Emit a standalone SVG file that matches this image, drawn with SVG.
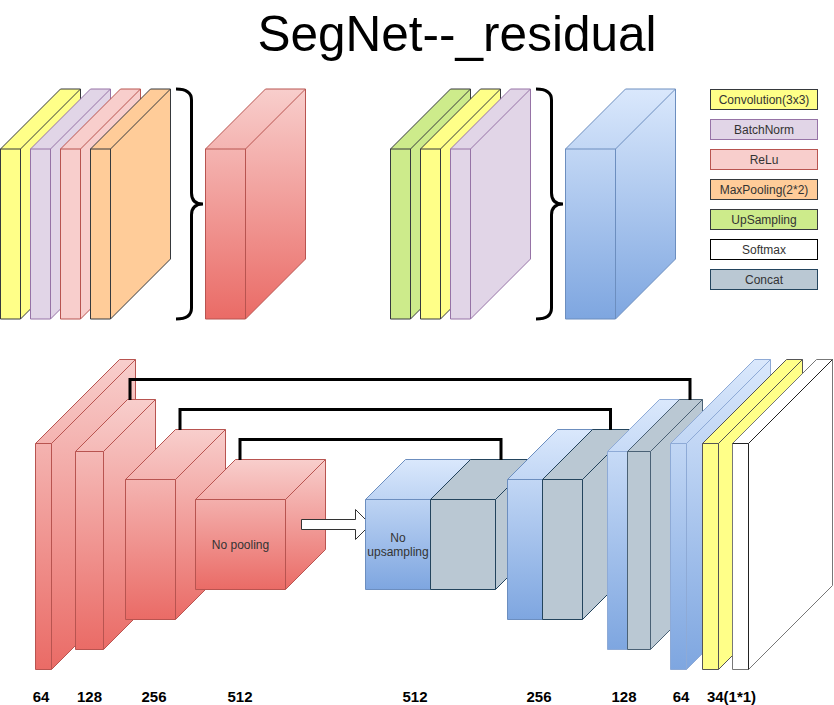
<svg xmlns="http://www.w3.org/2000/svg" width="834" height="705" viewBox="0 0 834 705">
<defs>
<linearGradient id="gRed" x1="0" y1="0" x2="0" y2="1"><stop offset="0" stop-color="#f8cecc"/><stop offset="1" stop-color="#ea6b66"/></linearGradient>
<linearGradient id="gBlue" x1="0" y1="0" x2="0" y2="1"><stop offset="0" stop-color="#dae8fc"/><stop offset="1" stop-color="#7ea6e0"/></linearGradient>
</defs>
<style>
.red{fill:url(#gRed);stroke:#b85450}
.blue{fill:url(#gBlue);stroke:#6c8ebf}
.blue2{fill:url(#gBlue);stroke:#8eaad6}
.conv{fill:#ffff88;stroke:#36393d}
.bn{fill:#e1d5e7;stroke:#9673a6}
.relu{fill:#f8cecc;stroke:#b85450}
.pool{fill:#ffcc99;stroke:#36393d}
.up{fill:#cdeb8b;stroke:#36393d}
.soft{fill:#ffffff;stroke:#000000}
.cat{fill:#bac8d3;stroke:#23445d}
.cat2{fill:#bac8d3;stroke:#4a6175}
.in{fill:none}
path,rect{stroke-width:1}
.brace,.skip{fill:none;stroke:#000;stroke-width:3}
.lt{font-family:"Liberation Sans",Arial,sans-serif;font-size:12px;fill:#333;text-anchor:middle}
.lab{font-family:"Liberation Sans",Arial,sans-serif;font-size:15px;font-weight:bold;fill:#000;text-anchor:middle}
</style>

<text x="457" y="50.5" font-family="'Liberation Sans',Arial,sans-serif" font-size="49.5" text-anchor="middle" fill="#000">SegNet--_residual</text>

<g id="top-encoder-layers">
<g class="conv"><path d="M0.5,149 L60.5,89 L80.5,89 L80.5,259 L20.5,319 L0.5,319 Z"/><path class="in" d="M0.5,149 H20.5 L80.5,89 M20.5,149 V319"/></g>
<g class="bn"><path d="M30.5,149 L90.5,89 L110.5,89 L110.5,259 L50.5,319 L30.5,319 Z"/><path class="in" d="M30.5,149 H50.5 L110.5,89 M50.5,149 V319"/></g>
<g class="relu"><path d="M60.5,149 L120.5,89 L140.5,89 L140.5,259 L80.5,319 L60.5,319 Z"/><path class="in" d="M60.5,149 H80.5 L140.5,89 M80.5,149 V319"/></g>
<g class="pool"><path d="M90.5,149 L150.5,89 L170.5,89 L170.5,259 L110.5,319 L90.5,319 Z"/><path class="in" d="M90.5,149 H110.5 L170.5,89 M110.5,149 V319"/></g>
</g>
<g id="brace-encoder"><path class="brace" d="M176,89 Q191.5,89 191.5,100 L191.5,193 Q191.5,204 203,204 Q191.5,204 191.5,215 L191.5,308 Q191.5,319 176,319"/></g>
<g id="top-encoder-block" class="red"><path d="M205.5,149 L265.5,89 L305.5,89 L305.5,259 L245.5,319 L205.5,319 Z"/><path class="in" d="M205.5,149 H245.5 L305.5,89 M245.5,149 V319"/></g>

<g id="top-decoder-layers">
<g class="up"><path d="M390.5,149 L450.5,89 L470.5,89 L470.5,259 L410.5,319 L390.5,319 Z"/><path class="in" d="M390.5,149 H410.5 L470.5,89 M410.5,149 V319"/></g>
<g class="conv"><path d="M420.5,149 L480.5,89 L500.5,89 L500.5,259 L440.5,319 L420.5,319 Z"/><path class="in" d="M420.5,149 H440.5 L500.5,89 M440.5,149 V319"/></g>
<g class="bn"><path d="M450.5,149 L510.5,89 L530.5,89 L530.5,259 L470.5,319 L450.5,319 Z"/><path class="in" d="M450.5,149 H470.5 L530.5,89 M470.5,149 V319"/></g>
</g>
<g id="brace-decoder"><path class="brace" d="M536,89 Q551.5,89 551.5,100 L551.5,193 Q551.5,204 563,204 Q551.5,204 551.5,215 L551.5,308 Q551.5,319 536,319"/></g>
<g id="top-decoder-block" class="blue"><path d="M565.5,149 L625.5,89 L675.5,89 L675.5,259 L615.5,319 L565.5,319 Z"/><path class="in" d="M565.5,149 H615.5 L675.5,89 M615.5,149 V319"/></g>

<g id="legend">
<rect class="conv" x="710.5" y="89.5" width="107" height="20"/><text class="lt" x="764" y="103.5">Convolution(3x3)</text>
<rect class="bn" x="710.5" y="119.5" width="107" height="20"/><text class="lt" x="764" y="133.5">BatchNorm</text>
<rect class="relu" x="710.5" y="149.5" width="107" height="20"/><text class="lt" x="764" y="163.5">ReLu</text>
<rect class="pool" x="710.5" y="179.5" width="107" height="20"/><text class="lt" x="764" y="193.5">MaxPooling(2*2)</text>
<rect class="up" x="710.5" y="209.5" width="107" height="20"/><text class="lt" x="764" y="223.5">UpSampling</text>
<rect class="soft" x="710.5" y="239.5" width="107" height="20"/><text class="lt" x="764" y="253.5">Softmax</text>
<rect class="cat" x="710.5" y="269.5" width="107" height="20"/><text class="lt" x="764" y="283.5">Concat</text>
</g>

<g id="enc1" class="red"><path d="M35.5,443.5 L119.5,359.5 L135.5,359.5 L135.5,585.5 L51.5,669.5 L35.5,669.5 Z"/><path class="in" d="M35.5,443.5 H51.5 L135.5,359.5 M51.5,443.5 V669.5"/></g>
<g id="enc2" class="red"><path d="M75.5,451.5 L127.5,399.5 L155.5,399.5 L155.5,597.5 L103.5,649.5 L75.5,649.5 Z"/><path class="in" d="M75.5,451.5 H103.5 L155.5,399.5 M103.5,451.5 V649.5"/></g>
<g id="enc3" class="red"><path d="M125.5,479.5 L175.5,429.5 L225.5,429.5 L225.5,569.5 L175.5,619.5 L125.5,619.5 Z"/><path class="in" d="M125.5,479.5 H175.5 L225.5,429.5 M175.5,479.5 V619.5"/></g>
<g id="enc4" class="red"><path d="M195.5,499.5 L235.5,459.5 L325.5,459.5 L325.5,549.5 L285.5,589.5 L195.5,589.5 Z"/><path class="in" d="M195.5,499.5 H285.5 L325.5,459.5 M285.5,499.5 V589.5"/><text class="lt" x="240.5" y="548.5" stroke="none">No pooling</text></g>

<g id="bridge-arrow"><path d="M301.5,519.5 H355.5 V509.5 L370.5,524.5 L355.5,539.5 V529.5 H301.5 Z" fill="#fff" stroke="#333"/></g>

<g id="dec1">
<g class="blue"><path d="M365.5,499.5 L405.5,459.5 L470.5,459.5 L470.5,549.5 L430.5,589.5 L365.5,589.5 Z"/><path class="in" d="M365.5,499.5 H430.5 L470.5,459.5 M430.5,499.5 V589.5"/></g>
<g class="cat"><path d="M430.5,499.5 L470.5,459.5 L535.5,459.5 L535.5,549.5 L495.5,589.5 L430.5,589.5 Z"/><path class="in" d="M430.5,499.5 H495.5 L535.5,459.5 M495.5,499.5 V589.5"/></g>
<text class="lt" x="398" y="541.5">No</text><text class="lt" x="398" y="556">upsampling</text>
</g>
<g id="dec2">
<g class="blue"><path d="M507.5,479.5 L557.5,429.5 L592.5,429.5 L592.5,569.5 L542.5,619.5 L507.5,619.5 Z"/><path class="in" d="M507.5,479.5 H542.5 L592.5,429.5 M542.5,479.5 V619.5"/></g>
<g class="cat"><path d="M542.5,479.5 L592.5,429.5 L632.5,429.5 L632.5,569.5 L582.5,619.5 L542.5,619.5 Z"/><path class="in" d="M542.5,479.5 H582.5 L632.5,429.5 M582.5,479.5 V619.5"/></g>
</g>
<g id="dec3">
<g class="blue2"><path d="M607.5,451.5 L659.5,399.5 L679.5,399.5 L679.5,597.5 L627.5,649.5 L607.5,649.5 Z"/><path class="in" d="M607.5,451.5 H627.5 L679.5,399.5 M627.5,451.5 V649.5"/></g>
<g class="cat2"><path d="M627.5,451.5 L679.5,399.5 L702.5,399.5 L702.5,597.5 L650.5,649.5 L627.5,649.5 Z"/><path class="in" d="M627.5,451.5 H650.5 L702.5,399.5 M650.5,451.5 V649.5"/></g>
</g>
<g id="dec4" class="blue2"><path d="M670.5,443.5 L754.5,359.5 L770.5,359.5 L770.5,585.5 L686.5,669.5 L670.5,669.5 Z"/><path class="in" d="M670.5,443.5 H686.5 L770.5,359.5 M686.5,443.5 V669.5"/></g>
<g id="conv1x1"><path d="M702.5,443.5 L786.5,359.5 L802.5,359.5 L802.5,585.5 L718.5,669.5 L702.5,669.5 Z" fill="#ffff88" stroke="#555"/><path d="M702.5,443.5 H718.5 L802.5,359.5 M718.5,443.5 V669.5" fill="none" stroke="#555"/></g>
<g id="softmax"><path d="M732.5,443.5 L816.5,359.5 L832.5,359.5 L832.5,585.5 L748.5,669.5 L732.5,669.5 Z" fill="#fff" stroke="#777"/><path d="M732.5,443.5 H748.5 L832.5,359.5 M748.5,443.5 V669.5" fill="none" stroke="#222"/></g>

<g id="connectors">
<path class="skip" d="M130,400 V379.5 H690 V400"/>
<path class="skip" d="M180,430 V409.5 H610.5 V430"/>
<path class="skip" d="M240,460 V439.5 H501 V460"/>
</g>

<g id="labels">
<text class="lab" x="41" y="702">64</text>
<text class="lab" x="89.5" y="702">128</text>
<text class="lab" x="154" y="702">256</text>
<text class="lab" x="240" y="702">512</text>
<text class="lab" x="415" y="702">512</text>
<text class="lab" x="539" y="702">256</text>
<text class="lab" x="624" y="702">128</text>
<text class="lab" x="681" y="702">64</text>
<text class="lab" x="731.5" y="702">34(1*1)</text>
</g>
</svg>
